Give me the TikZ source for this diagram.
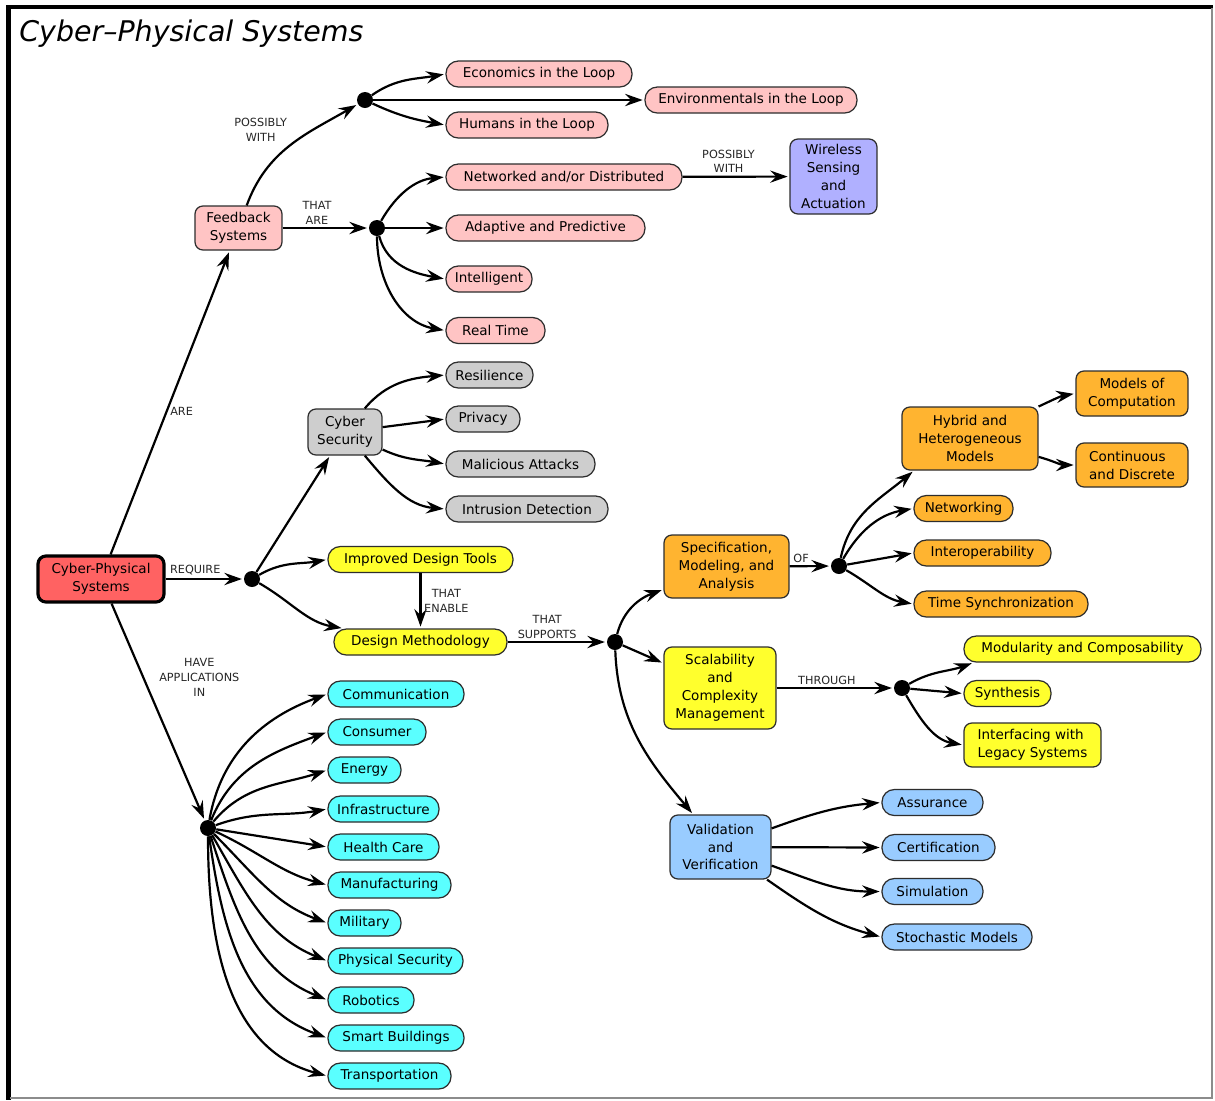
\documentclass[tikz,border=0pt]{standalone}
\usepackage{fontspec}
\setmainfont{DejaVu Sans}
\usetikzlibrary{arrows.meta}

\definecolor{pinkfill}{RGB}{255,196,196}
\definecolor{cpsred}{RGB}{255,98,98}
\definecolor{grayfill}{RGB}{206,206,206}
\definecolor{yellowfill}{RGB}{255,255,45}
\definecolor{orangefill}{RGB}{255,180,48}
\definecolor{cyanfill}{RGB}{90,255,255}
\definecolor{bluefill}{RGB}{153,204,255}
\definecolor{lavfill}{RGB}{176,176,255}
\definecolor{rimgray}{RGB}{45,45,45}

\begin{document}
\begin{tikzpicture}[x=0.02cm,y=-0.02cm,
	box/.style={draw=rimgray,fill=#1,line width=0.7pt,rounded corners=4.5pt,align=center,inner sep=1pt,font=\fontsize{7.7}{10.2}\selectfont},
	pill/.style={box=#1,rounded corners=7pt,minimum height=0.52cm},
	hub/.style={circle,fill=black,inner sep=0pt,minimum size=0.32cm},
	link/.style={-{Stealth[length=10pt,width=7pt,inset=3.5pt]},line width=1.25pt,shorten >=1pt},
	lbl/.style={font=\fontsize{6.4}{8.5}\selectfont,align=center,inner sep=1.5pt,text=black!85}]

	\useasboundingbox (0,0) rectangle (1215,1100);
	\fill[white] (0,0) rectangle (1215,1100);
	\draw[line width=2.3pt] (6,7) -- (1213,7);
	\draw[line width=2.8pt] (8.5,5) -- (8.5,1100);
	\draw[black!45,line width=1.1pt] (1212,8) -- (1212,1098) -- (10,1098);

	\node[anchor=base west,inner sep=0pt,font=\fontsize{16.2}{19}\selectfont\itshape] (ttl) at (19,41) {Cyber--Physical Systems};

	\node[box=cpsred,draw=black,line width=1.8pt,minimum width=2.52cm,minimum height=0.92cm] (cps) at (101,579) {Cyber-Physical\\Systems};

	\node[box=pinkfill,minimum width=1.74cm,minimum height=0.88cm] (fb) at (238.5,228) {Feedback\\Systems};
	\node[hub] (d1) at (365,100) {};
	\node[pill=pinkfill,minimum width=3.72cm] (econ) at (539,74) {Economics in the Loop};
	\node[pill=pinkfill,minimum width=4.24cm] (env) at (751,100) {Environmentals in the Loop};
	\node[pill=pinkfill,minimum width=3.24cm] (hum) at (527,125) {Humans in the Loop};
	\node[hub] (d2) at (377,228) {};
	\node[pill=pinkfill,minimum width=4.72cm] (net) at (564,177) {Networked and/or Distributed};
	\node[box=lavfill,minimum width=1.74cm,minimum height=1.5cm] (wsa) at (833.5,176.5) {Wireless\\Sensing\\and\\Actuation};
	\node[pill=pinkfill,minimum width=3.98cm] (adp) at (545.5,228) {Adaptive and Predictive};
	\node[pill=pinkfill,minimum width=1.72cm] (intl) at (489,279) {Intelligent};
	\node[pill=pinkfill,minimum width=1.98cm] (rt) at (495.5,330.5) {Real Time};

	\node[box=grayfill,minimum width=1.48cm,minimum height=0.92cm] (cs) at (345,432) {Cyber\\Security};
	\node[pill=grayfill,minimum width=1.74cm] (res) at (489.5,375) {Resilience};
	\node[pill=grayfill,minimum width=1.48cm] (prv) at (483,419) {Privacy};
	\node[pill=grayfill,minimum width=2.98cm] (mal) at (520.5,464) {Malicious Attacks};
	\node[pill=grayfill,minimum width=3.24cm] (ids) at (527,509) {Intrusion Detection};

	\node[hub] (d3) at (252,579) {};
	\node[pill=yellowfill,minimum width=3.70cm] (idt) at (420.5,559.5) {Improved Design Tools};
	\node[pill=yellowfill,minimum width=3.46cm] (dm) at (420.5,642) {Design Methodology};
	\node[hub] (d4) at (615,642) {};

	\node[box=orangefill,minimum width=2.5cm,minimum height=1.26cm] (sma) at (726.5,566.5) {Specification,\\Modeling, and\\Analysis};
	\node[hub] (d5) at (839,566) {};
	\node[box=orangefill,minimum width=2.72cm,minimum height=1.26cm] (hhm) at (970,438.5) {Hybrid and\\Heterogeneous\\Models};
	\node[box=orangefill,minimum width=2.24cm,minimum height=0.9cm] (moc) at (1132,393.5) {Models of\\Computation};
	\node[box=orangefill,minimum width=2.24cm,minimum height=0.88cm,align=left] (cad) at (1132,465) {Continuous\\and Discrete};
	\node[pill=orangefill,minimum width=1.98cm] (ntw) at (963.5,508.5) {Networking};
	\node[pill=orangefill,minimum width=2.74cm] (iop) at (982.5,553) {Interoperability};
	\node[pill=orangefill,minimum width=3.48cm] (tsy) at (1001,604) {Time Synchronization};

	\node[box=yellowfill,minimum width=2.24cm,minimum height=1.64cm] (scm) at (720,688) {Scalability\\and\\Complexity\\Management};
	\node[hub] (d6) at (902,688) {};
	\node[pill=yellowfill,minimum width=4.74cm] (mcp) at (1082.5,649) {Modularity and Composability};
	\node[pill=yellowfill,minimum width=1.74cm] (syn) at (1007.5,693.5) {Synthesis};
	\node[box=yellowfill,minimum width=2.74cm,minimum height=0.88cm,align=left] (ils) at (1032.5,745) {Interfacing with\\Legacy Systems};

	\node[box=bluefill,minimum width=2.02cm,minimum height=1.28cm] (vv) at (720.5,847) {Validation\\and\\Verification};
	\node[pill=bluefill,minimum width=2.02cm] (asr) at (932.5,802.5) {Assurance};
	\node[pill=bluefill,minimum width=2.26cm] (crt) at (938.5,847.5) {Certification};
	\node[pill=bluefill,minimum width=2.02cm] (sim) at (932.5,891.5) {Simulation};
	\node[pill=bluefill,minimum width=3.0cm] (stm) at (957,937) {Stochastic Models};

	\node[hub] (d7) at (208,828) {};
	\node[pill=cyanfill,minimum width=2.72cm] (com) at (396,694) {Communication};
	\node[pill=cyanfill,minimum width=1.96cm] (cns) at (377,732) {Consumer};
	\node[pill=cyanfill,minimum width=1.46cm] (enr) at (364.5,770) {Energy};
	\node[pill=cyanfill,minimum width=2.22cm] (inf) at (383.5,809) {Infrastructure};
	\node[pill=cyanfill,minimum width=2.22cm] (hc) at (383.5,847) {Health Care};
	\node[pill=cyanfill,minimum width=2.46cm] (mfg) at (389.5,885) {Manufacturing};
	\node[pill=cyanfill,minimum width=1.46cm] (mil) at (364.5,923) {Military};
	\node[pill=cyanfill,minimum width=2.70cm] (phs) at (395.5,961) {Physical Security};
	\node[pill=cyanfill,minimum width=1.72cm] (rob) at (371,1000) {Robotics};
	\node[pill=cyanfill,minimum width=2.72cm] (smb) at (396,1038) {Smart Buildings};
	\node[pill=cyanfill,minimum width=2.46cm] (trn) at (389.5,1076) {Transportation};

	\path[link] (cps) edge node[lbl,pos=0.47,right]{ARE} (fb);
	\path[link] (fb) edge [out=70,in=210] node[lbl,midway,above left=0pt]{POSSIBLY\\WITH} (d1);
	\path[link] (fb) edge node[lbl,pos=0.4,above]{THAT\\ARE} (d2);
	\path[link] (d1) edge [out=35,in=190] (econ.west);
	\path[link] (d1) edge (env);
	\path[link] (d1) edge [out=-25,in=170] (hum.west);
	\path[link] (d2) edge [out=60,in=185] (net.west);
	\path[link] (d2) edge (adp);
	\path[link] (d2) edge [out=-75,in=170] (intl.west);
	\path[link] (d2) edge [out=-90,in=170] (rt.west);
	\path[link] (net) edge node[lbl,pos=0.43,above]{POSSIBLY\\WITH} (wsa);

	\path[link] (cps) edge node[lbl,pos=0.38,above]{REQUIRE} (d3);
	\path[link] (d3) edge (cs);
	\path[link] (cs) edge [out=50,in=185] (res.west);
	\path[link] (cs) edge (prv.west);
	\path[link] (cs) edge [out=-25,in=170] (mal.west);
	\path[link] (cs) edge [out=-50,in=175] (ids.west);
	\path[link] (d3) edge [out=30,in=190] (idt.west);
	\path[link] (d3) edge [out=-30,in=170] (dm);
	\path[link] (idt) edge node[lbl,midway,right]{THAT\\ENABLE} (dm);
	\path[link] (dm) edge node[lbl,pos=0.4,above]{THAT\\SUPPORTS} (d4);

	\path[link] (d4) edge [out=75,in=200] (sma);
	\path[link] (d4) edge (scm);
	\path[link] (d4) edge [out=-88,in=130] (vv);
	\path[link] (sma) edge node[lbl,pos=0.28,above]{OF} (d5);
	\path[link] (d5) edge [out=78,in=220] ([xshift=0.25cm]hhm.south west);
	\path[link] (d5) edge [out=60,in=190] (ntw.west);
	\path[link] (d5) edge (iop.west);
	\path[link] (d5) edge [out=-30,in=170] (tsy.west);
	\path[link] (hhm) edge [out=25,in=190] (moc.west);
	\path[link] (hhm) edge [out=-15,in=180] (cad.west);
	\path[link] (scm) edge node[lbl,pos=0.43,above]{THROUGH} (d6);
	\path[link] (d6) edge [out=30,in=200] ([xshift=0.2cm]mcp.south west);
	\path[link] (d6) edge (syn.west);
	\path[link] (d6) edge [out=-60,in=170] (ils.west);
	\path[link] (vv) edge [out=20,in=185] (asr.west);
	\path[link] (vv) edge (crt.west);
	\path[link] (vv) edge [out=-20,in=180] (sim.west);
	\path[link] (vv) edge [out=-35,in=165] (stm.west);

	\path[link] (cps) edge node[lbl,pos=0.34,right=7pt]{HAVE\\APPLICATIONS\\IN} (d7);
	\path[link] (d7) edge [out=80,in=200] (com.west);
	\path[link] (d7) edge [out=68,in=200] (cns.west);
	\path[link] (d7) edge [out=50,in=198] (enr.west);
	\path[link] (d7) edge [out=20,in=190] (inf.west);
	\path[link] (d7) edge (hc.west);
	\path[link] (d7) edge [out=-25,in=165] (mfg.west);
	\path[link] (d7) edge [out=-45,in=160] (mil.west);
	\path[link] (d7) edge [out=-60,in=158] (phs.west);
	\path[link] (d7) edge [out=-72,in=158] (rob.west);
	\path[link] (d7) edge [out=-82,in=160] (smb.west);
	\path[link] (d7) edge [out=-90,in=165] (trn.west);

\end{tikzpicture}
\end{document}
